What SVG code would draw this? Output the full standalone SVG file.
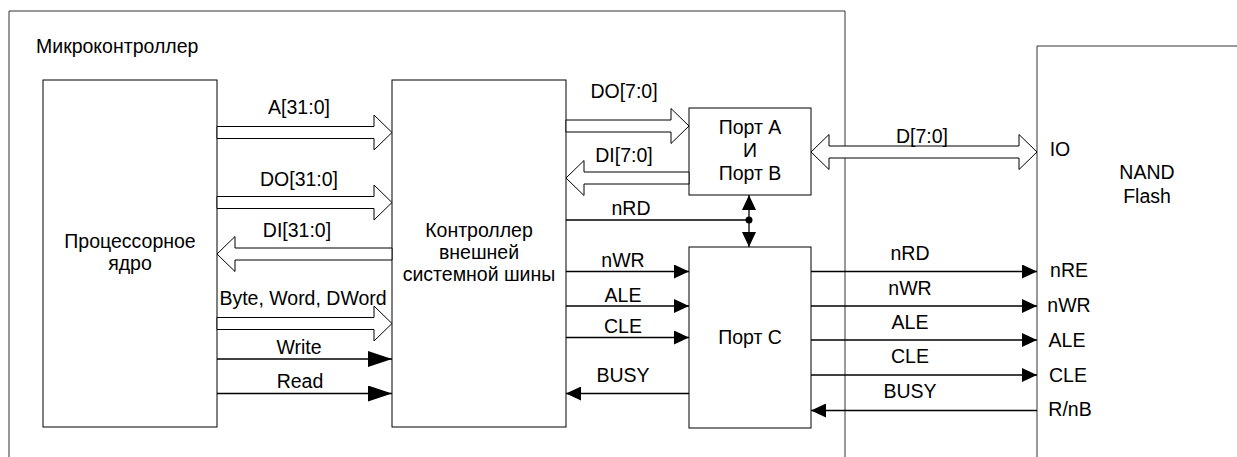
<svg xmlns="http://www.w3.org/2000/svg" width="1237" height="457" viewBox="0 0 1237 457">
<style>
.box{fill:#fff;stroke:#000;stroke-width:1}
.frame{fill:none;stroke:#333;stroke-width:1}
.bus{fill:#fff;stroke:#000;stroke-width:1;stroke-linejoin:miter}
.sig{fill:none;stroke:#000;stroke-width:1.3}
text{font-family:"Liberation Sans",Arial,sans-serif;font-size:19.5px;fill:#000}
.c{text-anchor:middle}
</style>
<defs>
<marker id="ah" viewBox="0 0 15 14" refX="15" refY="7" markerWidth="15" markerHeight="14" markerUnits="userSpaceOnUse" orient="auto">
<path d="M0,0 L15,7 L0,14 Z" fill="#000"/>
</marker>
<marker id="ahl" viewBox="0 0 24 16" refX="24" refY="8" markerWidth="24" markerHeight="16" markerUnits="userSpaceOnUse" orient="auto">
<path d="M0,0 L24,8 L0,16 Z" fill="#000"/>
</marker>
</defs>
<g id="mcu">
<path class="frame" d="M9,457 V11 H845 V457"/>
<text x="36" y="53">Микроконтроллер</text>
</g>
<g id="nand">
<path class="frame" d="M1037,457 V46 H1237"/>
<text class="c" x="1147" y="179">NAND</text>
<text class="c" x="1147" y="203">Flash</text>
<text class="c" x="1060" y="156">IO</text>
<text class="c" x="1069" y="277">nRE</text>
<text class="c" x="1069" y="312">nWR</text>
<text class="c" x="1067" y="347">ALE</text>
<text class="c" x="1068" y="382">CLE</text>
<text class="c" x="1070" y="416">R/nB</text>
</g>
<g id="core">
<rect class="box" x="43" y="80" width="174" height="347"/>
<text class="c" x="130" y="248">Процессорное</text>
<text class="c" x="130" y="270">ядро</text>
</g>
<g id="ctrl">
<rect class="box" x="392" y="80" width="174" height="347"/>
<text class="c" x="479" y="237">Контроллер</text>
<text class="c" x="479" y="259">внешней</text>
<text class="c" x="479" y="281">системной шины</text>
</g>
<g id="portab">
<rect class="box" x="689" y="108" width="122" height="87"/>
<text class="c" x="750" y="134">Порт А</text>
<text class="c" x="750" y="157">И</text>
<text class="c" x="750" y="180">Порт В</text>
</g>
<g id="portc">
<rect class="box" x="689" y="247" width="122" height="181"/>
<text class="c" x="750" y="344">Порт С</text>
</g>
<g id="connectors">
<polygon class="bus" points="217,126.5 374,126.5 374,115 392,132.5 374,150 374,138.5 217,138.5"/>
<polygon class="bus" points="217,196.5 374,196.5 374,185 392,202.5 374,220 374,208.5 217,208.5"/>
<polygon class="bus" points="392,248 235,248 235,236.5 217,254 235,271.5 235,260 392,260"/>
<polygon class="bus" points="217,317.5 374,317.5 374,306 392,323.5 374,341 374,329.5 217,329.5"/>
<polygon class="bus" points="566,120 671,120 671,108.5 689,126 671,143.5 671,132 566,132"/>
<polygon class="bus" points="689,172 584,172 584,160.5 566,178 584,195.5 584,184 689,184"/>
<polygon class="bus" points="811,152 829,134.5 829,146 1019,146 1019,134.5 1037,152 1019,169.5 1019,158 829,158 829,169.5"/>
<line class="sig" x1="217" y1="359" x2="392" y2="359" marker-end="url(#ahl)"/>
<line class="sig" x1="217" y1="393.5" x2="392" y2="393.5" marker-end="url(#ahl)"/>
<line class="sig" x1="566" y1="220" x2="749" y2="220"/>
<circle cx="749" cy="220" r="3.5" fill="#000"/>
<line class="sig" x1="749" y1="220" x2="749" y2="195" marker-end="url(#ah)"/>
<line class="sig" x1="749" y1="220" x2="749" y2="247" marker-end="url(#ah)"/>
<line class="sig" x1="566" y1="271.5" x2="689" y2="271.5" marker-end="url(#ah)"/>
<line class="sig" x1="566" y1="306" x2="689" y2="306" marker-end="url(#ah)"/>
<line class="sig" x1="566" y1="337.5" x2="689" y2="337.5" marker-end="url(#ah)"/>
<line class="sig" x1="689" y1="393.5" x2="566" y2="393.5" marker-end="url(#ah)"/>
<line class="sig" x1="811" y1="271.5" x2="1037" y2="271.5" marker-end="url(#ah)"/>
<line class="sig" x1="811" y1="306" x2="1037" y2="306" marker-end="url(#ah)"/>
<line class="sig" x1="811" y1="340" x2="1037" y2="340" marker-end="url(#ah)"/>
<line class="sig" x1="811" y1="375" x2="1037" y2="375" marker-end="url(#ah)"/>
<line class="sig" x1="1037" y1="410.5" x2="811" y2="410.5" marker-end="url(#ah)"/>
<text class="c" x="299" y="114">A[31:0]</text>
<text class="c" x="299" y="186">DO[31:0]</text>
<text class="c" x="297" y="237">DI[31:0]</text>
<text class="c" x="303" y="305">Byte, Word, DWord</text>
<text class="c" x="299" y="354">Write</text>
<text class="c" x="300" y="388">Read</text>
<text class="c" x="624" y="98">DO[7:0]</text>
<text class="c" x="624" y="162">DI[7:0]</text>
<text class="c" x="631" y="215">nRD</text>
<text class="c" x="623" y="267">nWR</text>
<text class="c" x="623" y="302">ALE</text>
<text class="c" x="623" y="333">CLE</text>
<text class="c" x="623" y="382">BUSY</text>
<text class="c" x="922" y="143">D[7:0]</text>
<text class="c" x="910" y="260">nRD</text>
<text class="c" x="910" y="295">nWR</text>
<text class="c" x="910" y="329">ALE</text>
<text class="c" x="910" y="363">CLE</text>
<text class="c" x="910" y="398">BUSY</text>
</g>
</svg>
